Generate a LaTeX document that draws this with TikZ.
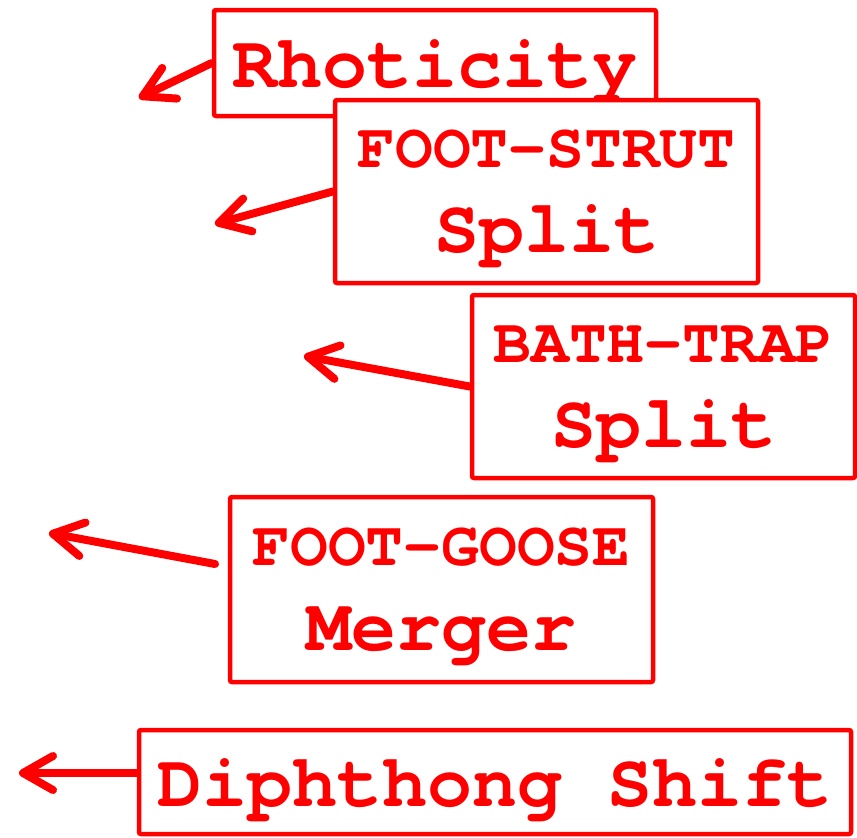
\documentclass[tikz,border=0pt]{standalone}
\usepackage{fontspec}
\setmonofont{TeX Gyre Cursor}
\usetikzlibrary{arrows.meta}
\newcommand\tagline{\fontsize{63}{85}\selectfont}

\begin{document}
\begin{tikzpicture}[
    x=1pt,y=-1pt,
    box/.style={draw=red,fill=white,line width=4.5pt,rounded corners=2pt,inner sep=0pt,text depth=0pt,text=red,align=center,font=\ttfamily\bfseries\fontsize{75}{85}\selectfont},
    back/.style={-{Straight Barb[round,length=30pt,width=34pt]},line width=8pt,red,line cap=round}
  ]
    \useasboundingbox (0,0) rectangle (857,838);
    \node[box,minimum width=442pt,minimum height=106pt] (rhot) at (435,63) {Rhoticity};
    \node[box,minimum width=423pt,minimum height=183pt] (fstrut) at (546.5,191.5) {{\tagline FOOT-STRUT}\\Split};
    \node[box,minimum width=383pt,minimum height=183pt] (btrap) at (663.5,386.5) {{\tagline BATH-TRAP}\\Split};
    \node[box,minimum width=423pt,minimum height=185pt] (fgoose) at (441.5,589.5) {{\tagline FOOT-GOOSE}\\Merger};
    \node[box,minimum width=712pt,minimum height=104pt] (dshift) at (495,782) {Diphthong Shift};

    \coordinate (rtip) at (139,98);
    \coordinate (ftip) at (215,224);
    \coordinate (btip) at (304,356);
    \coordinate (gstart) at (215,564);
    \coordinate (gtip) at (49,533);
    \coordinate (dtip) at (19,773);

    \draw[back] (rhot.west) -- (rtip);
    \draw[back] (fstrut.west) -- (ftip);
    \draw[back] (btrap.west) -- (btip);
    \draw[back] (gstart) -- (gtip);
    \draw[back] (dshift.west |- dtip) -- (dtip);
  \end{tikzpicture}
\end{document}
